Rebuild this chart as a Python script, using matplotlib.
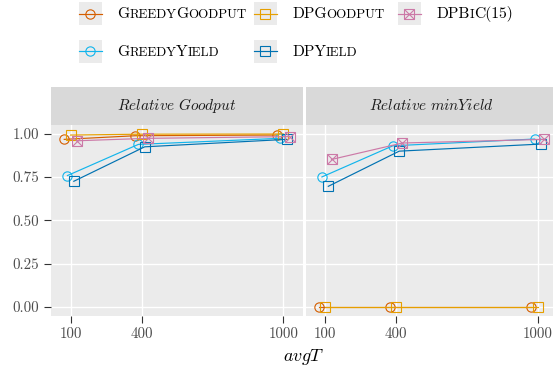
import matplotlib
matplotlib.use("Agg")
import matplotlib.pyplot as plt
from matplotlib.patches import Rectangle
from matplotlib.lines import Line2D

plt.rcParams["mathtext.fontset"] = "cm"
plt.rcParams["axes.formatter.use_mathtext"] = True

W, H = 553, 369

avg_t = [100, 400, 1000]
x_ticklabels = ["100", "400", "1000"]
y_ticks = [0.0, 0.25, 0.5, 0.75, 1.0]
y_ticklabels = ["0.00", "0.25", "0.50", "0.75", "1.00"]
panels = ["Relative\\ Goodput", "Relative\\ minYield"]

# series, in dodge order
series = ["GreedyGoodput", "GreedyYield", "DPGoodput", "DPYield", "DPBiC(15)"]
goodput = {
    "GreedyGoodput": [0.967, 0.988, 0.992],
    "GreedyYield": [0.758, 0.938, 0.973],
    "DPGoodput": [0.992, 0.997, 0.998],
    "DPYield": [0.725, 0.924, 0.967],
    "DPBiC(15)": [0.959, 0.973, 0.983],
}
min_yield = {
    "GreedyGoodput": [0.0, 0.0, 0.0],
    "GreedyYield": [0.750, 0.930, 0.969],
    "DPGoodput": [0.0, 0.0, 0.0],
    "DPYield": [0.696, 0.899, 0.940],
    "DPBiC(15)": [0.851, 0.946, 0.967],
}

colors = {
    "GreedyGoodput": "#D55E00",
    "GreedyYield": "#12B5EC",
    "DPGoodput": "#E69F00",
    "DPYield": "#0072B2",
    "DPBiC(15)": "#CC79A7",
}
markers = {
    "GreedyGoodput": "o",
    "GreedyYield": "o",
    "DPGoodput": "s",
    "DPYield": "s",
    "DPBiC(15)": "s",
}
# small caps pieces: (text, is_capital)
sc_labels = {
    "GreedyGoodput": [("G", 1), ("REEDY", 0), ("G", 1), ("OODPUT", 0)],
    "GreedyYield": [("G", 1), ("REEDY", 0), ("Y", 1), ("IELD", 0)],
    "DPGoodput": [("DPG", 1), ("OODPUT", 0)],
    "DPYield": [("DPY", 1), ("IELD", 0)],
    "DPBiC(15)": [("DPB", 1), ("I", 0), ("C(15)", 1)],
}

dodge = 13.5
panel_bg = "#EBEBEB"
strip_bg = "#D9D9D9"
text_grey = "#4D4D4D"
line_w = 0.85


def fx(px):
    return px / W


def fy(py):
    return 1 - py / H


def draw_series(ax, name, values):
    k = series.index(name) - 2
    xs = [x + k * dodge for x in avg_t]
    c = colors[name]
    ax.plot(xs, values, color=c, lw=line_w, marker=markers[name], ms=6.7,
            mfc="none", mec=c, mew=0.8, zorder=3, clip_on=False)
    if name == "DPBiC(15)":
        ax.plot(xs, values, ls="none", marker="x", ms=6.7, mec=c, mew=0.8, zorder=3)


fig = plt.figure(figsize=(W / 100, H / 100), dpi=100)

ax_left = 51
ax_w = 252
ax_top = 125
ax_bot = 315.5
strip_top = 86.7
lefts = [ax_left, 305.5]
axes = []
for i, (lx, title) in enumerate(zip(lefts, panels)):
    ax = fig.add_axes([fx(lx), fy(ax_bot), ax_w / W, (ax_bot - ax_top) / H])
    ax.set_facecolor(panel_bg)
    for s in ax.spines.values():
        s.set_visible(False)
    ax.set_xlim(17, 1083)
    ax.set_ylim(-0.05, 1.05)
    ax.set_xticks(avg_t)
    ax.set_xticklabels(x_ticklabels, family="cmr10", fontsize=10.8, color=text_grey)
    ax.set_yticks(y_ticks)
    if i == 0:
        ax.set_yticklabels(y_ticklabels, family="cmr10", fontsize=10.8, color=text_grey)
    else:
        ax.tick_params(axis="y", left=False, labelleft=False)
    ax.tick_params(length=5, width=0.8, color="#333333", pad=3.3)
    ax.grid(True, color="white", lw=1.0)
    ax.set_axisbelow(True)

    # facet strip
    sh = (ax_top - strip_top) / (ax_bot - ax_top)
    ax.add_patch(Rectangle((0, 1), 1, sh, transform=ax.transAxes,
                           facecolor=strip_bg, edgecolor="none", clip_on=False))
    ax.text(0.5, 1 + sh / 2, r"$\mathit{" + title + "}$", transform=ax.transAxes,
            ha="center", va="center", fontsize=11, color="#1A1A1A")
    axes.append(ax)

for name in series:
    draw_series(axes[0], name, goodput[name])
    draw_series(axes[1], name, min_yield[name])

fig.text(fx(304), fy(361), r"$avgT$", ha="center", va="baseline", fontsize=13, color="black")

# legend
renderer = fig.canvas.get_renderer()
legend_pos = {
    "GreedyGoodput": (79, 0),
    "DPGoodput": (254, 0),
    "DPBiC(15)": (398, 0),
    "GreedyYield": (79, 1),
    "DPYield": (254, 1),
}
row_y = [2, 39.5]
key_w, key_h = 22.5, 23
for name, (kx, row) in legend_pos.items():
    ky = row_y[row]
    fig.add_artist(Rectangle((fx(kx), fy(ky + key_h)), key_w / W, key_h / H,
                             transform=fig.transFigure, facecolor=panel_bg, edgecolor="none"))
    c = colors[name]
    cy = fy(ky + key_h / 2)
    fig.add_artist(Line2D([fx(kx), fx(kx + key_w)], [cy, cy], color=c, lw=line_w,
                          transform=fig.transFigure))
    fig.add_artist(Line2D([fx(kx + key_w / 2)], [cy], marker=markers[name], ms=6.7,
                          mfc="none", mec=c, mew=0.8, transform=fig.transFigure))
    if name == "DPBiC(15)":
        fig.add_artist(Line2D([fx(kx + key_w / 2)], [cy], marker="x", ms=6.7,
                              mec=c, mew=0.8, transform=fig.transFigure))
    tx = kx + 38
    base = ky + 16.5
    for piece, cap in sc_labels[name]:
        t = fig.text(fx(tx), fy(base), piece, family="cmr10",
                     fontsize=11.2 if cap else 9.4, va="baseline", ha="left", color="black")
        tx += t.get_window_extent(renderer).width

fig.savefig("out.png", dpi=100)
